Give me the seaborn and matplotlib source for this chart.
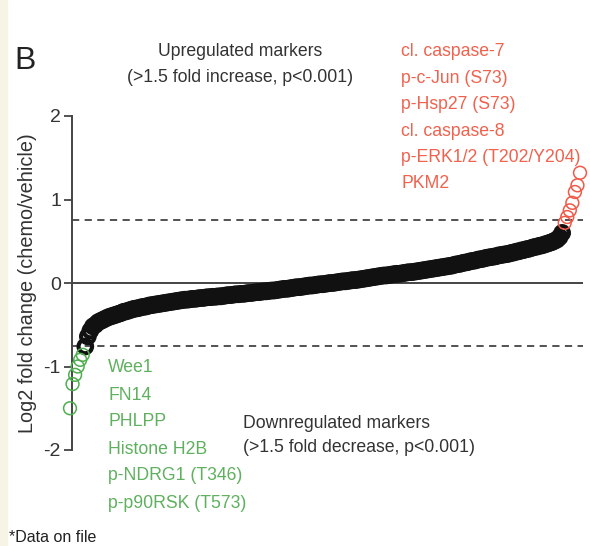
import matplotlib
matplotlib.use('Agg')
import matplotlib.pyplot as plt
import seaborn as sns
import numpy as np
import pandas as pd

# ========== data (sorted log2 fold changes) ==========
down_values = [-1.50, -1.21, -1.10, -1.00, -0.92, -0.86]

mid_values = [
    -0.76, -0.64, -0.57, -0.52, -0.50, -0.47, -0.455, -0.44, -0.425, -0.41,
    -0.40, -0.39, -0.38, -0.37, -0.36, -0.345, -0.34, -0.33, -0.32, -0.31,
    -0.305, -0.30, -0.29, -0.285, -0.28, -0.27, -0.265, -0.26, -0.255, -0.25,
    -0.245, -0.24, -0.235, -0.23, -0.225, -0.22, -0.215, -0.21, -0.205, -0.20,
    -0.20, -0.195, -0.19, -0.19, -0.185, -0.18, -0.18, -0.175, -0.17, -0.17,
    -0.165, -0.165, -0.16, -0.16, -0.155, -0.15, -0.145, -0.145, -0.14, -0.135,
    -0.135, -0.13, -0.13, -0.125, -0.12, -0.12, -0.115, -0.11, -0.11, -0.105,
    -0.10, -0.10, -0.095, -0.09, -0.09, -0.085, -0.08, -0.075, -0.07, -0.07,
    -0.065, -0.06, -0.055, -0.05, -0.05, -0.045, -0.04, -0.035, -0.03, -0.03,
    -0.025, -0.02, -0.015, -0.015, -0.01, -0.005, 0.00, 0.00, 0.005, 0.01,
    0.015, 0.02, 0.02, 0.025, 0.03, 0.035, 0.035, 0.04, 0.045, 0.05,
    0.055, 0.06, 0.065, 0.07, 0.075, 0.08, 0.085, 0.09, 0.09, 0.095,
    0.10, 0.105, 0.11, 0.11, 0.115, 0.12, 0.125, 0.13, 0.13, 0.135,
    0.14, 0.145, 0.15, 0.155, 0.16, 0.165, 0.17, 0.175, 0.18, 0.185,
    0.19, 0.195, 0.20, 0.205, 0.21, 0.22, 0.225, 0.23, 0.24, 0.245,
    0.25, 0.26, 0.265, 0.27, 0.28, 0.285, 0.29, 0.30, 0.305, 0.31,
    0.315, 0.32, 0.33, 0.335, 0.34, 0.345, 0.35, 0.36, 0.365, 0.375,
    0.38, 0.39, 0.395, 0.405, 0.41, 0.42, 0.43, 0.435, 0.445, 0.45,
    0.46, 0.47, 0.48, 0.49, 0.505, 0.52, 0.55, 0.60,
]

up_values = [0.72, 0.79, 0.87, 0.96, 1.09, 1.17, 1.32]

up_labels = ['cl. caspase-7', 'p-c-Jun (S73)', 'p-Hsp27 (S73)', 'cl. caspase-8',
             'p-ERK1/2 (T202/Y204)', 'PKM2']
down_labels = ['Wee1', 'FN14', 'PHLPP', 'Histone H2B', 'p-NDRG1 (T346)',
               'p-p90RSK (T573)']

threshold = 0.75
y_ticks = [-2, -1, 0, 1, 2]

# ========== build table ==========
values = down_values + mid_values + up_values
groups = (['down'] * len(down_values) + ['mid'] * len(mid_values)
          + ['up'] * len(up_values))
df = pd.DataFrame({'rank': np.arange(len(values)), 'log2fc': values, 'group': groups})

colors = {'mid': '#111111', 'down': '#4fae4f', 'up': '#f05a48'}
sizes = {'mid': 95, 'down': 85, 'up': 85}
widths = {'mid': 3.0, 'down': 1.1, 'up': 1.1}
green_txt = '#5fb05f'
red_txt = '#f0624e'
txt = 12.7

sns.set_style('white')
plt.rcParams['font.family'] = ['Liberation Sans', 'DejaVu Sans']

W, H = 590, 546
fig = plt.figure(figsize=(W / 100, H / 100), dpi=100)
ax = fig.add_axes([72 / W, 1 - 450 / H, (583 - 72) / W, (450 - 116) / H])

for g in ['mid', 'down', 'up']:
    sub = df[df['group'] == g]
    sns.scatterplot(data=sub, x='rank', y='log2fc', ax=ax, marker='o', s=sizes[g],
                    facecolor='none', edgecolor=colors[g], linewidth=widths[g],
                    clip_on=False, legend=False, zorder=3)

ax.axhline(0, color='#444444', lw=1.4, zorder=1)
ax.axhline(threshold, color='#444444', lw=1.3, ls=(0, (4, 3)), zorder=1)
ax.axhline(-threshold, color='#444444', lw=1.3, ls=(0, (4, 3)), zorder=1)

n = len(values)
step = (580 - 70) / (n - 1)
ax.set_xlim((72 - 70) / step, (583 - 70) / step)
ax.set_ylim(-2, 2)
ax.set_yticks(y_ticks)
ax.set_yticklabels([str(t) for t in y_ticks], fontsize=14, color='#333333')
ax.set_xticks([])
ax.set_xlabel('')
ax.set_ylabel('Log2 fold change (chemo/vehicle)', fontsize=14.3, color='#333333', labelpad=5)
ax.tick_params(axis='y', direction='out', length=6, width=1.3, color='#444444', pad=2, left=True)
for side in ['top', 'right', 'bottom']:
    ax.spines[side].set_visible(False)
ax.spines['left'].set_color('#444444')
ax.spines['left'].set_linewidth(1.4)
ax.patch.set_alpha(0)

# cream strip on the left edge
fig.patches.append(plt.Rectangle((0, 0), 7 / W, 1, transform=fig.transFigure,
                                 color='#f7f4e6', zorder=0))


def px(x, y):
    return x / W, 1 - y / H


fig.text(*px(14, 61), 'B', fontsize=23, color='#222222', va='center', ha='left')
fig.text(*px(240, 52), 'Upregulated markers', fontsize=txt, color='#333333', ha='center', va='center')
fig.text(*px(240, 78), '(>1.5 fold increase, p<0.001)', fontsize=txt, color='#333333', ha='center', va='center')
fig.text(*px(243, 423), 'Downregulated markers', fontsize=txt, color='#333333', ha='left', va='center')
fig.text(*px(243, 447), '(>1.5 fold decrease, p<0.001)', fontsize=txt, color='#333333', ha='left', va='center')

for i, lab in enumerate(up_labels):
    fig.text(*px(401, 52 + i * 26.4), lab, fontsize=txt, color=red_txt, ha='left', va='center')
for i, lab in enumerate(down_labels):
    fig.text(*px(108, 368 + i * 27), lab, fontsize=txt, color=green_txt, ha='left', va='center')

fig.text(*px(9, 537), '*Data on file', fontsize=11.5, color='#222222', ha='left', va='center')

fig.savefig('out.png', dpi=100)
